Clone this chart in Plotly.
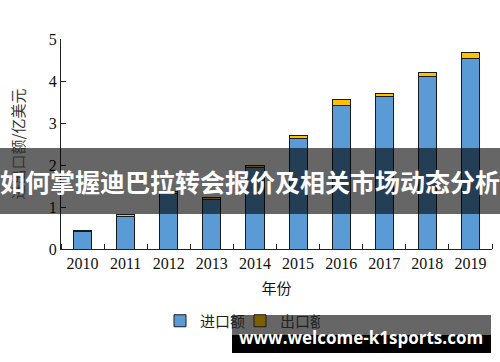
import plotly.graph_objects as go

years = ["2010", "2011", "2012", "2013", "2014", "2015", "2016", "2017", "2018", "2019"]
imports = [0.42, 0.78, 1.33, 1.19, 1.94, 2.64, 3.42, 3.62, 4.10, 4.54]
exports = [0.03, 0.03, 0.04, 0.03, 0.05, 0.06, 0.14, 0.08, 0.11, 0.14]
y_ticks = [0, 1, 2, 3, 4, 5]

L, R, T, B = 61, 8, 39, 113
W, H = 500, 362
PW, PH = W - L - R, H - T - B

def px(x):
    return (x - L) / PW

def py(y):
    return (H - B - y) / PH

xs = list(range(len(years)))
serif = "Liberation Serif, Noto Sans CJK SC"

fig = go.Figure()
fig.add_trace(go.Bar(x=xs, y=imports, name="进口额", marker=dict(color="#5B9BD5", line=dict(color="#1a1a1a", width=1)), width=0.42))
fig.add_trace(go.Bar(x=xs, y=exports, name="出口额", marker=dict(color="#FFC000", line=dict(color="#1a1a1a", width=1)), width=0.42, showlegend=False))
fig.add_trace(go.Bar(x=[None], y=[None], name="出口额", marker=dict(color="#7F6000", line=dict(color="#1a1a1a", width=1))))

fig.update_layout(
    barmode="stack",
    width=W, height=H,
    margin=dict(l=L, r=R, t=T, b=B),
    plot_bgcolor="white", paper_bgcolor="white",
    font=dict(family=serif, size=16, color="#111"),
    showlegend=True,
    legend=dict(orientation="h", x=px(160), xanchor="left", y=py(321), yanchor="middle", traceorder="normal",
                font=dict(size=15, family="Noto Sans CJK SC", color="#222"), itemwidth=30, entrywidth=35,
                bgcolor="rgba(0,0,0,0)"),
    xaxis=dict(range=[-0.5, 9.5], tickvals=xs, ticktext=years, ticks="", showline=True, linecolor="#222",
               linewidth=1, showgrid=False, zeroline=False, tickfont=dict(size=16, family=serif),
               minor=dict(tick0=0.5, dtick=1, ticks="inside", ticklen=5, tickcolor="#222"),
               title=dict(text="年份", font=dict(size=15, family="Noto Sans CJK SC"), standoff=12)),
    yaxis=dict(range=[0, 5], tickvals=y_ticks, ticks="inside", ticklen=5, tickcolor="#222", showline=True,
               linecolor="#222", linewidth=1, showgrid=False, zeroline=False, tickfont=dict(size=16, family=serif),
               title=dict(text="进出口额/亿美元", font=dict(size=15, family="Noto Sans CJK SC", color="#333"), standoff=20)),
)

fig.add_shape(type="rect", xref="paper", yref="paper", x0=px(0), x1=px(500), y0=py(148), y1=py(214),
              fillcolor="rgba(0,0,0,0.6)", line=dict(width=0), layer="above")
fig.add_annotation(xref="paper", yref="paper", x=px(250), y=py(181), text="<b>如何掌握迪巴拉转会报价及相关市场动态分析</b>",
                   showarrow=False, font=dict(size=25, color="white", family="Noto Sans CJK SC"), xanchor="center", yanchor="middle")

fig.add_shape(type="rect", xref="paper", yref="paper", x0=px(232), x1=px(491), y0=py(315), y1=py(335),
              fillcolor="rgba(0,0,0,0.6)", line=dict(width=0), layer="above")
fig.add_shape(type="rect", xref="paper", yref="paper", x0=px(232), x1=px(491), y0=py(335), y1=py(353),
              fillcolor="black", line=dict(width=0), layer="above")
fig.add_annotation(xref="paper", yref="paper", x=px(361), y=py(337), text="<b>www.welcome-k1sports.com</b>",
                   showarrow=False, font=dict(size=17, color="white", family="Open Sans"), xanchor="center", yanchor="middle")

fig.write_html("out.html")
